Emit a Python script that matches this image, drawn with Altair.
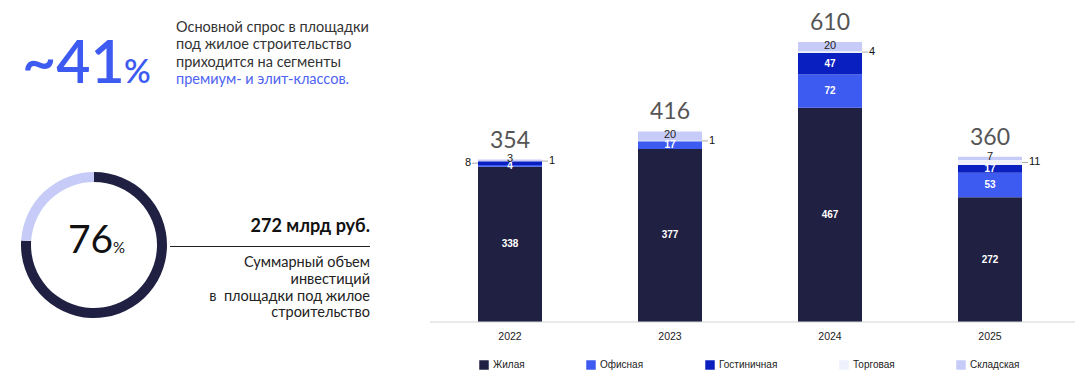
import altair as alt
import pandas as pd

# ---------------- data ----------------
years = ["2022", "2023", "2024", "2025"]
categories = ["Жилая", "Офисная", "Гостиничная", "Торговая", "Складская"]
cat_colors = ["#1f2042", "#3d5af1", "#0a1fbf", "#eef0fb", "#c6ccf7"]
zhilaya = [338, 377, 467, 272]
ofisnaya = [4, 17, 72, 53]
gostinichnaya = [8, 0, 47, 17]
torgovaya = [1, 1, 4, 11]
skladskaya = [3, 20, 20, 7]
totals = [354, 416, 610, 360]

donut_parts = ["Жилая", "Прочие"]
donut_values = [76, 24]
donut_colors = ["#1f2042", "#c6ccf7"]

headline_value = "~41"
headline_lines = ["Основной спрос в площадки", "под жилое строительство", "приходится на сегменты"]
headline_blue = "премиум- и элит-классов."
donut_label = "76"
sum_title = "272 млрд руб."
sum_lines = ["Суммарный объем", "инвестиций", "в\u00a0\u00a0площадки под жилое", "строительство"]

# ---------------- tables ----------------
series = [zhilaya, ofisnaya, gostinichnaya, torgovaya, skladskaya]
rows = []
for i, yr in enumerate(years):
    base = 0
    for j, kind in enumerate(categories):
        v = series[j][i]
        rows.append(dict(year=yr, kind=kind, order=j, v=v, y0=base, y1=base + v, mid=base + v / 2))
        base += v
df = pd.DataFrame(rows)
seg = df[df.v > 0].copy()


def place(r):
    if r["kind"] == "Торговая":
        return "right"
    if r["kind"] == "Гостиничная" and r["v"] < 10:
        return "left"
    return "inside"


seg["place"] = seg.apply(place, axis=1)
inside_white = seg[(seg["place"] == "inside") & (seg["kind"].isin(["Жилая", "Офисная", "Гостиничная"]))]
inside_dark = seg[(seg["place"] == "inside") & (seg["kind"].isin(["Торговая", "Складская"]))]
left_lab = seg[seg["place"] == "left"]
right_lab = seg[seg["place"] == "right"]
tot_df = pd.DataFrame({"year": years, "total": totals})
donut_df = pd.DataFrame({"part": donut_parts, "v": donut_values, "c": donut_colors, "o": [0, 1]})
one = pd.DataFrame({"a": [0]})

# ---------------- scales ----------------
xs = alt.Scale(domain=years, range=[422, 1062], paddingInner=0.6, paddingOuter=0.3)
ys = alt.Scale(domain=[0, 610], range=[314, 34], nice=False, zero=True)
X = alt.X("year:N", scale=xs, axis=None)
LBL = "Liberation Sans"

bars = alt.Chart(seg).mark_bar().encode(
    x=X,
    y=alt.Y("y1:Q", scale=ys, axis=None),
    y2="y0:Q",
    color=alt.Color(
        "kind:N",
        sort=categories,
        scale=alt.Scale(domain=categories, range=cat_colors),
        legend=alt.Legend(
            title=None, orient="none", legendX=471, legendY=352, direction="horizontal",
            symbolType="square", symbolSize=90, symbolStrokeWidth=0, labelFont=LBL,
            labelFontSize=10, labelColor="#222", columnPadding=61, labelOffset=4, padding=0,
        ),
    ),
)

txt_white = alt.Chart(inside_white).mark_text(
    font=LBL, fontSize=10, fontWeight="bold", color="white", baseline="middle"
).encode(x=X, y=alt.Y("mid:Q", scale=ys), text="v:Q")

txt_dark = alt.Chart(inside_dark).mark_text(
    font=LBL, fontSize=11, color="#222", baseline="middle", dy=-1
).encode(x=X, y=alt.Y("mid:Q", scale=ys), text="v:Q")

tick_left = alt.Chart(left_lab).mark_tick(
    orient="horizontal", size=6, thickness=1, xOffset=-35, color="#888"
).encode(x=X, y=alt.Y("mid:Q", scale=ys))
txt_left = alt.Chart(left_lab).mark_text(
    font=LBL, fontSize=11, color="#111", align="right", baseline="middle", xOffset=-39
).encode(x=X, y=alt.Y("mid:Q", scale=ys), text="v:Q")

tick_right = alt.Chart(right_lab).mark_tick(
    orient="horizontal", size=6, thickness=1, xOffset=35, color="#888"
).encode(x=X, y=alt.Y("mid:Q", scale=ys))
txt_right = alt.Chart(right_lab).mark_text(
    font=LBL, fontSize=11, color="#111", align="left", baseline="middle", xOffset=39
).encode(x=X, y=alt.Y("mid:Q", scale=ys), text="v:Q")

tot_txt = alt.Chart(tot_df).mark_text(
    font="Lato", fontSize=23, color="#555", baseline="alphabetic", dy=-12
).encode(x=X, y=alt.Y("total:Q", scale=ys), text="total:Q")

axis_line = alt.Chart(one).mark_rule(color="#d4d4d4", strokeWidth=1).encode(
    y=alt.datum(0, scale=ys), x=alt.value(422), x2=alt.value(1067)
)
year_txt = alt.Chart(tot_df).mark_text(
    font=LBL, fontSize=10.5, color="#222", baseline="middle"
).encode(x=X, y=alt.value(329), text="year:N")

# ---------------- left panel ----------------
big = alt.Chart(one).mark_text(
    font="Lato", fontSize=59, fontWeight=600, color="#3d5af1", align="left", baseline="alphabetic"
).encode(x=alt.value(14), y=alt.value(75), text=alt.value(headline_value))
big_pct = alt.Chart(one).mark_text(
    font="Lato", fontSize=33, fontWeight=600, color="#3d5af1", align="left", baseline="alphabetic"
).encode(x=alt.value(116), y=alt.value(75), text=alt.value("%"))
head = alt.Chart(one).mark_text(
    font="Lato", fontSize=14.5, color="#333", align="left", baseline="middle", lineHeight=17.3
).encode(x=alt.value(168), y=alt.value(20), text=alt.value(headline_lines))
head_blue = alt.Chart(one).mark_text(
    font="Lato", fontSize=14.5, color="#4f63f2", align="left", baseline="middle"
).encode(x=alt.value(168), y=alt.value(72), text=alt.value(headline_blue))

donut = alt.Chart(donut_df).mark_arc(outerRadius=73, innerRadius=63).encode(
    theta=alt.Theta("v:Q", stack=True),
    color=alt.Color("c:N", scale=None),
    order=alt.Order("o:Q"),
    x=alt.value(86),
    y=alt.value(237),
)
d_txt = alt.Chart(one).mark_text(
    font="Lato", fontSize=39, color="#111", align="left", baseline="alphabetic"
).encode(x=alt.value(60), y=alt.value(245), text=alt.value(donut_label))
d_pct = alt.Chart(one).mark_text(
    font="Lato", fontSize=15, color="#111", align="left", baseline="alphabetic"
).encode(x=alt.value(105), y=alt.value(245), text=alt.value("%"))

s_title = alt.Chart(one).mark_text(
    font="Lato", fontSize=18, fontWeight="bold", color="#111", align="right", baseline="alphabetic"
).encode(x=alt.value(362), y=alt.value(224), text=alt.value(sum_title))
s_rule = alt.Chart(one).mark_rule(color="#222", strokeWidth=1).encode(
    x=alt.value(162), x2=alt.value(362), y=alt.value(238.5)
)
s_body = alt.Chart(one).mark_text(
    font="Lato", fontSize=14.5, color="#222", align="right", baseline="middle", lineHeight=16.8
).encode(x=alt.value(362), y=alt.value(255), text=alt.value(sum_lines))

chart = (
    alt.layer(
        bars, txt_white, txt_dark, tick_left, txt_left, tick_right, txt_right, tot_txt,
        axis_line, year_txt, big, big_pct, head, head_blue, donut, d_txt, d_pct,
        s_title, s_rule, s_body,
    )
    .resolve_scale(color="independent")
    .properties(width=1073, height=369, padding=0, autosize=alt.AutoSizeParams(type="none"))
    .configure_view(stroke=None)
)

chart.save("out.html", embed_options={"renderer": "svg", "actions": False})
